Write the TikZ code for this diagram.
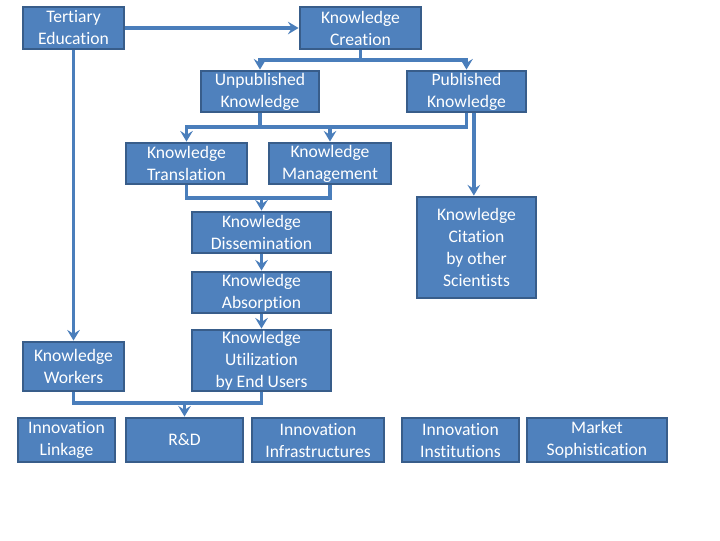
\documentclass[tikz,border=0pt]{standalone}
\usepackage{fontspec}
\setmainfont{Carlito}[Ligatures=NoCommon]
\usepackage{tikz}
\usetikzlibrary{positioning,calc,arrows.meta}
\usepackage{xcolor}
\definecolor{boxblue}{HTML}{4F81BD}
\definecolor{boxedge}{HTML}{385D8A}
\definecolor{lineblue}{HTML}{4A7EBB}
\newcommand{\pxu}{0.75pt}

\begin{document}
\begin{tikzpicture}[
    x=0.75pt, y=-0.75pt,
    block/.style 2 args={rectangle, draw=boxedge, line width=2.2pt, fill=boxblue, text=white,
        minimum width=#1*\pxu, minimum height=#2*\pxu, inner sep=0pt, align=center,
        font=\fontsize{13.2}{16.5}\selectfont},
    link/.style={draw=lineblue, line width=2.7pt},
    arrow/.style={link, -{Stealth[length=8pt,width=9.5pt,inset=3pt]}}
]
\useasboundingbox (0,0) rectangle (720,540);

% Top row
\node[block={101}{42}] (tert) at (73.5,28) {Tertiary\\Education};
\node[block={121}{42}] (create) at (360.5,28) {Knowledge\\Creation};

% Knowledge types
\node[block={118}{41}] (unpub) at (260,91.5) {Unpublished\\Knowledge};
\node[block={119}{41}] (pub) at (466.5,91.5) {Published\\Knowledge};

% Middle column
\node[block={121}{41}] (trans) at (186.5,163.5) {Knowledge\\Translation};
\node[block={122}{41}] (manage) at (330,163.5) {Knowledge\\Management};
\node[block={139}{41}] (dissem) at (261.5,232.5) {Knowledge\\Dissemination};
\node[block={139}{41}] (absorb) at (261.5,292.5) {Knowledge\\Absorption};
\node[block={139}{61}] (util) at (261.5,360.5) {Knowledge\\Utilization\\by End Users};

% Right column
\node[block={119}{101}] (cite) at (476.5,247.5) {Knowledge\\Citation\\by other\\Scientists};

% Left column
\node[block={101}{49}] (workers) at (73.5,366.5) {Knowledge\\Workers};

% Bottom row
\node[block={97}{44}] (linkage) at (66.5,440) {Innovation\\Linkage};
\node[block={117}{44}] (rnd) at (184.5,440) {R\&D};
\node[block={132}{44}] (infra) at (318,440) {Innovation\\Infrastructures};
\node[block={117}{44}] (instit) at (460.5,440) {Innovation\\Institutions};
\node[block={140}{44}] (market) at (597,440) {Market\\Sophistication};

% Junctions
\coordinate (jcreate) at (360.5,60);
\coordinate (jknow) at (260,127);
\coordinate (jdiss) at (261.5,198);
\coordinate (jrnd) at (184.5,403);

% Arrows
\draw[arrow] (tert) -- (create);
\draw[link] (create) -- (jcreate);
\draw[arrow] (jcreate) -| (unpub);
\draw[arrow] (jcreate) -| (pub);
\draw[link] (unpub) -- (jknow);
\draw[link] (pub.south) |- (jknow);
\draw[arrow] (jknow) -| (trans);
\draw[arrow] (jknow) -| (manage);
\draw[arrow] ([xshift=5.5pt]pub.south) -- ([xshift=5.5pt]pub.south |- cite.north);
\draw[link] (trans) |- (jdiss);
\draw[link] (manage) |- (jdiss);
\draw[arrow] (jdiss) -- (dissem);
\draw[arrow] (dissem) -- (absorb);
\draw[arrow] (absorb) -- (util);
\draw[arrow] (tert) -- (workers);
\draw[link] (workers) |- (jrnd);
\draw[link] (util) |- (jrnd);
\draw[arrow] (jrnd) -- (rnd);

\end{tikzpicture}
\end{document}
